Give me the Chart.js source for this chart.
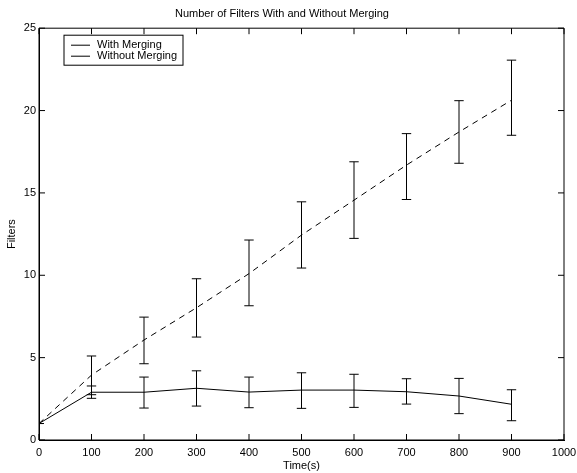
<!DOCTYPE html>
<html><head><meta charset="utf-8">
<script src="https://cdn.jsdelivr.net/npm/chart.js@4"></script>
<style>html,body{margin:0;padding:0;background:#fff}#wrap{width:577px;height:473px}</style>
</head><body><div id="wrap"><canvas id="c" width="577" height="473"></canvas></div>
<script>
const timeSteps = [0, 100, 200, 300, 400, 500, 600, 700, 800, 900];
const withMerging      = [1, 2.90, 2.90, 3.14, 2.91, 3.03, 3.03, 2.93, 2.67, 2.17];
const withMergingLow   = [1, 2.53, 1.94, 2.06, 1.96, 1.92, 1.98, 2.18, 1.60, 1.17];
const withMergingHigh  = [1, 3.28, 3.82, 4.20, 3.82, 4.08, 3.99, 3.72, 3.74, 3.05];
const withoutMerging     = [1, 3.94, 6.07, 8.03, 10.10, 12.44, 14.56, 16.69, 18.70, 20.63];
const withoutMergingLow  = [1, 2.75, 4.63, 6.25, 8.15, 10.44, 12.24, 14.60, 16.80, 18.50];
const withoutMergingHigh = [1, 5.10, 7.46, 9.79, 12.14, 14.46, 16.89, 18.60, 20.60, 23.06];
const xTicks = [0, 100, 200, 300, 400, 500, 600, 700, 800, 900, 1000];
const yTicks = [0, 5, 10, 15, 20, 25];
const seriesNames = ['With Merging', 'Without Merging'];

const FONT = '"Liberation Sans", Arial, Helvetica, sans-serif';
const toXY = vals => vals.map((v, i) => ({x: timeSteps[i], y: v}));

const errorBars = {
  id: 'errorBars',
  afterDatasetsDraw(chart) {
    const {ctx, chartArea: a, scales: {x, y}} = chart;
    ctx.save();
    ctx.beginPath(); ctx.rect(a.left, a.top, a.right - a.left, a.bottom - a.top); ctx.clip();
    ctx.strokeStyle = '#000'; ctx.lineWidth = 1;
    chart.data.datasets.forEach(ds => {
      ds.errLow.forEach((lo, i) => {
        const hi = ds.errHigh[i];
        const px = x.getPixelForValue(timeSteps[i]);
        const pl = y.getPixelForValue(lo), ph = y.getPixelForValue(hi);
        const w = 4.7;
        ctx.beginPath();
        ctx.moveTo(px, pl); ctx.lineTo(px, ph);
        ctx.moveTo(px - w, pl); ctx.lineTo(px + w, pl);
        ctx.moveTo(px - w, ph); ctx.lineTo(px + w, ph);
        ctx.stroke();
      });
    });
    ctx.restore();
  }
};

const frame = {
  id: 'frame',
  afterDraw(chart) {
    const {ctx, chartArea: a, scales: {x, y}} = chart;
    ctx.save();
    ctx.strokeStyle = '#000'; ctx.lineWidth = 1;
    ctx.beginPath();
    ctx.rect(a.left, a.top, a.right - a.left, a.bottom - a.top);
    ctx.stroke();
    const t = 6;
    ctx.beginPath();
    xTicks.forEach(v => {
      const px = x.getPixelForValue(v);
      ctx.moveTo(px, a.bottom); ctx.lineTo(px, a.bottom - t);
      ctx.moveTo(px, a.top); ctx.lineTo(px, a.top + t);
    });
    yTicks.forEach(v => {
      const py = y.getPixelForValue(v);
      ctx.moveTo(a.left, py); ctx.lineTo(a.left + t, py);
      ctx.moveTo(a.right, py); ctx.lineTo(a.right - t, py);
    });
    ctx.stroke();
    // legend
    const lx = a.left + 25, ly = a.top + 7, lw = 119, lh = 30;
    ctx.fillStyle = '#fff';
    ctx.fillRect(lx, ly, lw, lh);
    ctx.strokeRect(lx, ly, lw, lh);
    ctx.font = '11px ' + FONT;
    ctx.fillStyle = '#000';
    ctx.textBaseline = 'middle';
    ctx.textAlign = 'left';
    chart.data.datasets.forEach((ds, i) => {
      const ry = ly + 10 + i * 11;
      ctx.beginPath();
      ctx.moveTo(lx + 7, ry); ctx.lineTo(lx + 26, ry);
      ctx.stroke();
      ctx.fillText(ds.label, lx + 33, ry);
    });
    ctx.restore();
  }
};

new Chart(document.getElementById('c'), {
  type: 'line',
  data: {
    datasets: [
      {label: seriesNames[0], data: toXY(withMerging), errLow: withMergingLow, errHigh: withMergingHigh,
       borderColor: '#000', borderWidth: 1, pointRadius: 0, tension: 0, fill: false},
      {label: seriesNames[1], data: toXY(withoutMerging), errLow: withoutMergingLow, errHigh: withoutMergingHigh,
       borderColor: '#000', borderWidth: 1, borderDash: [6, 5], pointRadius: 0, tension: 0, fill: false}
    ]
  },
  options: {
    responsive: false,
    animation: false,
    devicePixelRatio: 1,
    layout: {padding: {top: 0, right: 13, bottom: 0, left: 0}},
    plugins: {
      legend: {display: false},
      tooltip: {enabled: false},
      title: {display: true, text: 'Number of Filters With and Without Merging', color: '#000',
              font: {family: FONT, size: 11, weight: 'normal'}, padding: {top: 7, bottom: 8}}
    },
    scales: {
      x: {
        type: 'linear', min: 0, max: 1000,
        afterBuildTicks: s => { s.ticks = xTicks.map(v => ({value: v})); },
        grid: {display: false, drawTicks: false, tickLength: 0},
        border: {display: true, color: '#000', width: 1},
        ticks: {color: '#000', font: {family: FONT, size: 11}, padding: 6, maxRotation: 0, autoSkip: false,
                callback: v => String(v)},
        title: {display: true, text: 'Time(s)', color: '#000', font: {family: FONT, size: 11}, padding: {top: 0, bottom: 0}},
        afterFit: s => { s.height = 33; s.paddingRight = 0; s.paddingLeft = 0; }
      },
      y: {
        type: 'linear', min: 0, max: 25,
        afterBuildTicks: s => { s.ticks = yTicks.map(v => ({value: v})); },
        grid: {display: false, drawTicks: false, tickLength: 0},
        border: {display: true, color: '#000', width: 1},
        ticks: {color: '#000', font: {family: FONT, size: 11}, padding: 3, callback: v => String(v)},
        title: {display: true, text: 'Filters', color: '#000', font: {family: FONT, size: 11}, padding: {top: 5, bottom: 0}},
        afterFit: s => { s.width = 39; }
      }
    }
  },
  plugins: [errorBars, frame]
});
</script>
</body></html>
